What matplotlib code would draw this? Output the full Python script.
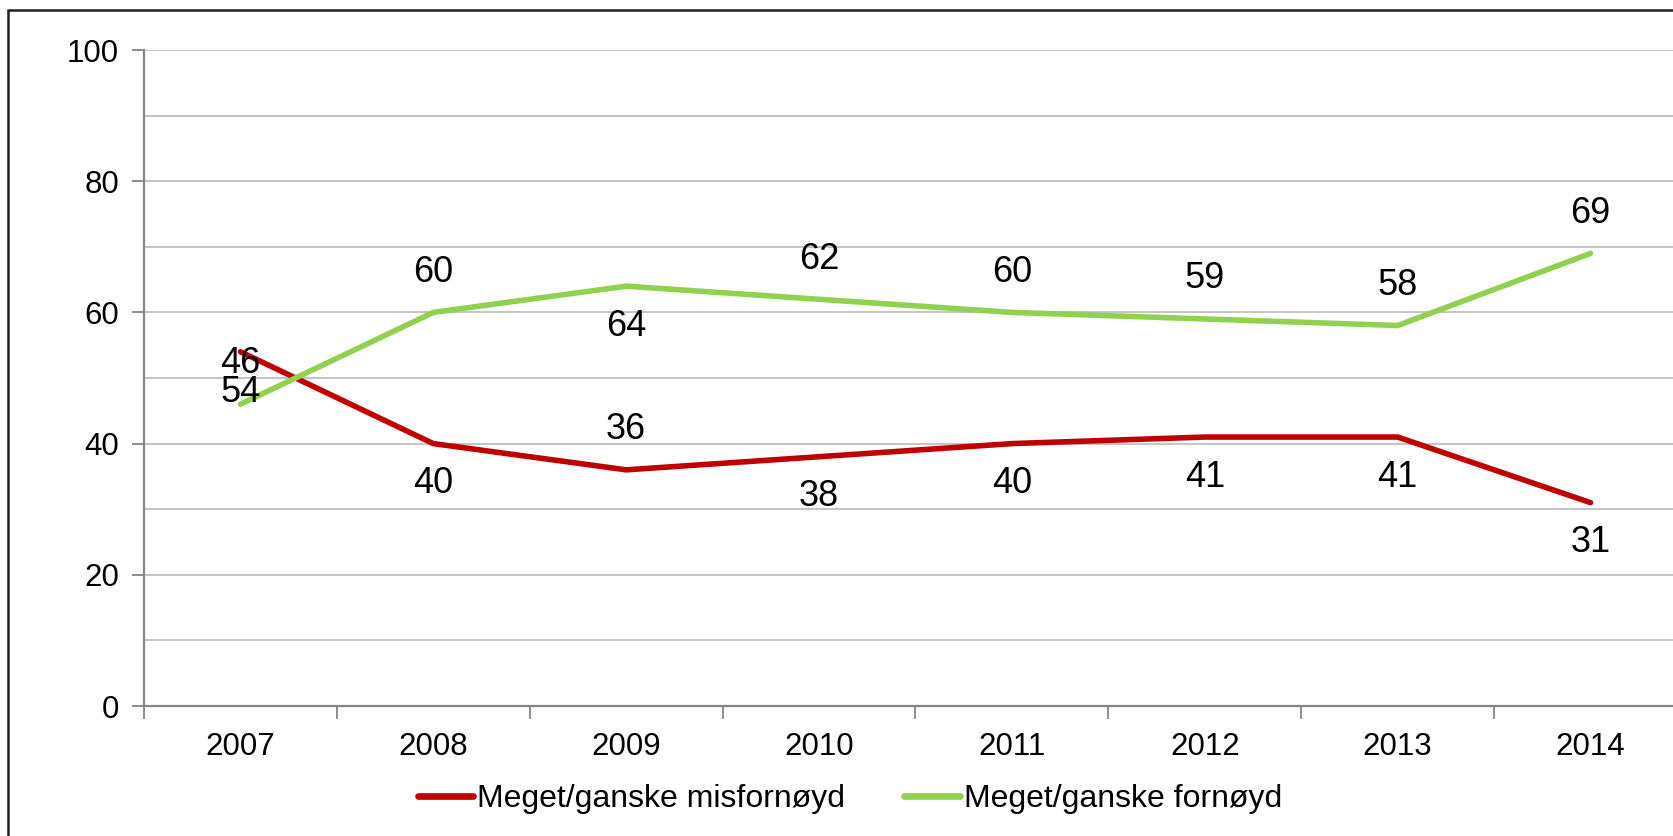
"""
Line chart: satisfaction 2007-2014 (misfornøyd vs fornøyd)
"""

import matplotlib
matplotlib.use('Agg')
import matplotlib.pyplot as plt
from matplotlib.patches import Rectangle

years = ['2007', '2008', '2009', '2010', '2011', '2012', '2013', '2014']
misfornoyd = [54, 40, 36, 38, 40, 41, 41, 31]
fornoyd = [46, 60, 64, 62, 60, 59, 58, 69]
series_names = ['Meget/ganske misfornøyd', 'Meget/ganske fornøyd']

RED = '#C00000'
GREEN = '#92D050'
AXIS_GRAY = '#868686'
GRID_GRAY = '#BFBFBF'

plt.rcParams['font.family'] = ['Liberation Sans', 'DejaVu Sans']

W, H = 1673, 836
fig = plt.figure(figsize=(W / 100, H / 100), dpi=100)
ax = fig.add_axes([144 / W, 1 - 706 / H, (1687 - 144) / W, (706 - 50) / H])

x = list(range(len(years)))
l1, = ax.plot(x, misfornoyd, color=RED, linewidth=4, solid_capstyle='round',
              solid_joinstyle='round', zorder=3)
l2, = ax.plot(x, fornoyd, color=GREEN, linewidth=4, solid_capstyle='round',
              solid_joinstyle='round', zorder=3)

# data labels: +1 above the point, -1 below
red_side = [-1, -1, 1, -1, -1, -1, -1, -1]
green_side = [1, 1, -1, 1, 1, 1, 1, 1]
for series, sides in ((misfornoyd, red_side), (fornoyd, green_side)):
    for xi, (v, s) in enumerate(zip(series, sides)):
        ax.annotate(str(v), (xi, v), xytext=(0, 29 * s), textcoords='offset points',
                    ha='center', va='center', fontsize=26, color='black', zorder=4)

ax.set_xlim(-0.5, len(years) - 0.5)
ax.set_ylim(0, 100)

# y axis
ax.set_yticks(range(0, 101, 20))
ax.set_yticks(range(10, 100, 20), minor=True)
ax.yaxis.grid(True, which='both', color=GRID_GRAY, linewidth=1.3)
ax.set_axisbelow(True)
ax.tick_params(axis='y', which='major', direction='out', length=9, width=1.3,
               color=AXIS_GRAY, labelsize=22.5, pad=9)
ax.tick_params(axis='y', which='minor', length=0)

# x axis: labels at centres, ticks at category boundaries
ax.set_xticks(x)
ax.set_xticklabels(years)
ax.set_xticks([i - 0.5 for i in range(len(years) + 1)], minor=True)
ax.tick_params(axis='x', which='major', length=0, labelsize=22.5, pad=19)
ax.tick_params(axis='x', which='minor', direction='out', length=9, width=1.3,
               color=AXIS_GRAY)

for side in ('top', 'right'):
    ax.spines[side].set_visible(False)
for side in ('left', 'bottom'):
    ax.spines[side].set_color(AXIS_GRAY)
    ax.spines[side].set_linewidth(1.6)

leg = fig.legend([l1, l2], series_names, loc='center', bbox_to_anchor=(850 / W, 1 - 799 / H),
                 ncol=2, frameon=False, fontsize=23, handlelength=1.75, handletextpad=0.12,
                 columnspacing=1.85)
for h in leg.get_lines():
    h.set_linewidth(4.8)

# chart border
fig.patches.append(Rectangle((8 / W, -0.05), 1.1, 1 - 10 / H + 0.05,
                             transform=fig.transFigure, fill=False,
                             edgecolor='#222222', linewidth=1.8))

fig.savefig('out.png', dpi=100)
